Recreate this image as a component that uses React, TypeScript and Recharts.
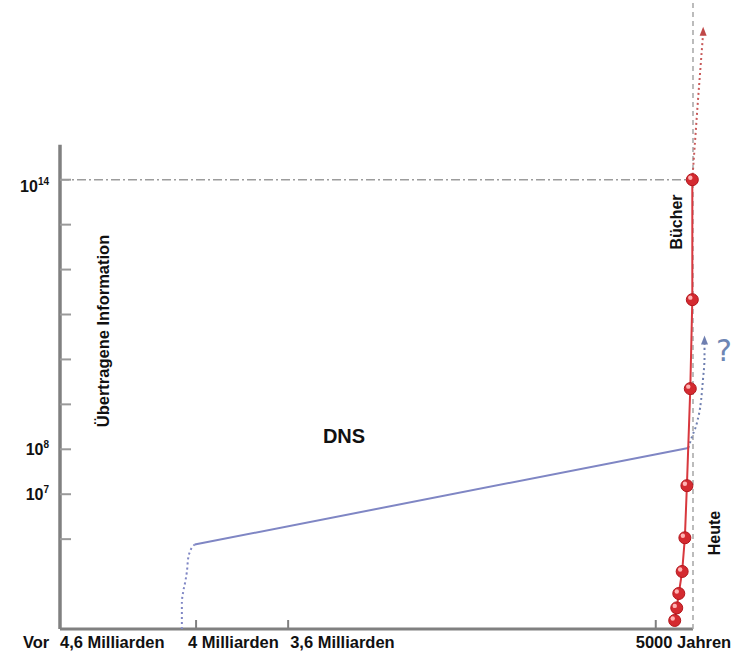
import { LineChart, Line, XAxis, YAxis, ReferenceLine } from 'recharts';

// x: abstract timeline position (0 = vor 4,6 Mrd. Jahren, ~93.5 = heute), y: log10 of transferred information
const xTicks = [0, 20.1, 33.7, 88.0];
const xTickLabels = ['4,6 Milliarden', '4 Milliarden', '3,6 Milliarden', '5000 Jahren'];
const yTicks = [6, 7, 8, 9, 10, 11, 12, 13, 14];
const yTickLabels: Record<number, string> = { 7: '7', 8: '8', 14: '14' };

const booksX = [90.8, 91.1, 91.4, 91.9, 92.3, 92.6, 93.1, 93.4, 93.4];
const booksLog = [4.19, 4.47, 4.79, 5.28, 6.03, 7.19, 9.35, 11.33, 14.0];
const booksFutureX = [93.4, 94.2, 95.0];
const booksFutureLog = [14.0, 15.7, 17.27];

const dnaOriginX = [18.0, 18.0, 18.2, 18.5, 18.8, 18.9, 19.2, 19.9];
const dnaOriginLog = [4.0, 4.6, 4.83, 5.05, 5.36, 5.54, 5.72, 5.88];
const dnaX = [19.9, 92.8];
const dnaLog = [5.88, 8.03];
const dnaFutureX = [92.8, 93.4, 94.1, 94.7, 95.0, 95.2, 95.2];
const dnaFutureLog = [8.03, 8.3, 8.6, 9.1, 9.6, 10.0, 10.4];

const today = 93.5;
const booksTop = 14;

const zip = (xs: number[], ys: number[]) => xs.map((x, i) => ({ x, y: ys[i] }));

const FONT = '"Liberation Sans", Arial, Helvetica, sans-serif';
const GREY = '#808080';
const RED = '#d8383e';
const BLUE = '#7f86c4';

function XTick(props: any) {
  const { x, payload } = props;
  const i = xTicks.indexOf(payload.value);
  const base = 648;
  return (
    <g>
      {i > 0 && <line x1={x} x2={x} y1={620} y2={629} stroke={GREY} strokeWidth={2} />}
      {i === 0 && (
        <text x={23} y={base} fontFamily={FONT} fontWeight="bold" fontSize={16.5} fill="#111">
          Vor
        </text>
      )}
      <text
        x={x + [0, -8, 2, -20][i]}
        y={base}
        fontFamily={FONT}
        fontWeight="bold"
        fontSize={16.5}
        fill="#111"
      >
        {xTickLabels[i]}
      </text>
    </g>
  );
}

function YTick(props: any) {
  const { y, payload } = props;
  const label = yTickLabels[payload.value];
  const dy = payload.value === 14 ? 12 : 6;
  return (
    <g>
      <line x1={60} x2={71} y1={y} y2={y} stroke="#9a9a9a" strokeWidth={2} />
      {label && (
        <text x={49} y={y + dy} textAnchor="end" fontFamily={FONT} fontWeight="bold" fontSize={16} fill="#111">
          10
          <tspan fontSize={10} dy={-7}>
            {label}
          </tspan>
        </text>
      )}
    </g>
  );
}

const redDot = (p: any) => (
  <g key={`b-${p.index}`}>
    <circle cx={p.cx} cy={p.cy} r={6} fill="#d42a30" stroke="#b3161c" strokeWidth={1} />
    <circle cx={p.cx - 2} cy={p.cy - 2} r={2.2} fill="#ffb4b4" />
  </g>
);

const arrowDot = (len: number, color: string) => (p: any) =>
  p.index === len - 1 ? (
    <path
      key={`a-${p.index}`}
      d={`M${p.cx},${p.cy - 6} L${p.cx - 3.5},${p.cy + 3} L${p.cx + 3.5},${p.cy + 3} Z`}
      fill={color}
    />
  ) : (
    <g key={`a-${p.index}`} />
  );

export default function App() {
  return (
    <div style={{ position: 'absolute', left: 0, top: 0, width: 737, height: 654, background: '#fff' }}>
      <LineChart width={737} height={654} margin={{ top: 0, right: 0, bottom: 0, left: 0 }}>
        <XAxis
          type="number"
          dataKey="x"
          domain={[0, 100]}
          ticks={xTicks}
          allowDataOverflow
          axisLine={false}
          tickLine={false}
          tick={<XTick />}
          height={25}
          interval={0}
        />
        <YAxis
          type="number"
          dataKey="y"
          domain={[4, 18]}
          ticks={yTicks}
          allowDataOverflow
          axisLine={false}
          tickLine={false}
          tick={<YTick />}
          width={60}
          interval={0}
        />

        {/* axes */}
        <ReferenceLine segment={[{ x: 0, y: 4 }, { x: 0, y: 14.78 }]} stroke={GREY} strokeWidth={3.5} />
        <ReferenceLine segment={[{ x: 0, y: 4 }, { x: today, y: 4 }]} stroke={GREY} strokeWidth={3} />
        <ReferenceLine
          segment={[{ x: 0, y: booksTop }, { x: 93.4, y: booksTop }]}
          stroke="#9c9c9c"
          strokeWidth={1.5}
          strokeDasharray="9 3 2 3"
        />
        <ReferenceLine
          segment={[{ x: today, y: 4 }, { x: today, y: 18 }]}
          stroke="#a6a6a6"
          strokeWidth={1.5}
          strokeDasharray="5 4"
        />

        <Line
          data={zip(dnaOriginX, dnaOriginLog)}
          dataKey="y"
          type="monotone"
          stroke={BLUE}
          strokeWidth={2}
          strokeDasharray="2 3"
          dot={false}
          isAnimationActive={false}
        />
        <Line
          data={zip(dnaX, dnaLog)}
          dataKey="y"
          type="linear"
          stroke={BLUE}
          strokeWidth={2}
          dot={false}
          isAnimationActive={false}
        />
        <Line
          data={zip(dnaFutureX, dnaFutureLog)}
          dataKey="y"
          type="monotone"
          stroke="#6f7fb0"
          strokeWidth={2}
          strokeDasharray="2 3"
          dot={arrowDot(dnaFutureX.length, '#6f7fb0')}
          isAnimationActive={false}
        />
        <Line
          data={zip(booksFutureX, booksFutureLog)}
          dataKey="y"
          type="linear"
          stroke="#c85a5a"
          strokeWidth={2}
          strokeDasharray="2 3"
          dot={arrowDot(booksFutureX.length, '#c04848')}
          isAnimationActive={false}
        />
        <Line
          data={zip(booksX, booksLog)}
          dataKey="y"
          type="linear"
          stroke={RED}
          strokeWidth={2}
          dot={redDot}
          isAnimationActive={false}
        />

        <text
          transform="translate(109,331) rotate(-90)"
          textAnchor="middle"
          fontFamily={FONT}
          fontWeight="bold"
          fontSize={16.5}
          fill="#111"
        >
          Übertragene Information
        </text>
        <text x={344} y={443} textAnchor="middle" fontFamily={FONT} fontWeight="bold" fontSize={20} fill="#111">
          DNS
        </text>
        <text
          transform="translate(682,222) rotate(-90)"
          textAnchor="middle"
          fontFamily={FONT}
          fontWeight="bold"
          fontSize={16}
          fill="#111"
        >
          Bücher
        </text>
        <text
          transform="translate(720,533) rotate(-90)"
          textAnchor="middle"
          fontFamily={FONT}
          fontWeight="bold"
          fontSize={16}
          fill="#111"
        >
          Heute
        </text>
        <text x={716} y={361} fontFamily='"DejaVu Sans", sans-serif' fontSize={30} fill="#6d86b4">
          ?
        </text>
      </LineChart>
    </div>
  );
}
